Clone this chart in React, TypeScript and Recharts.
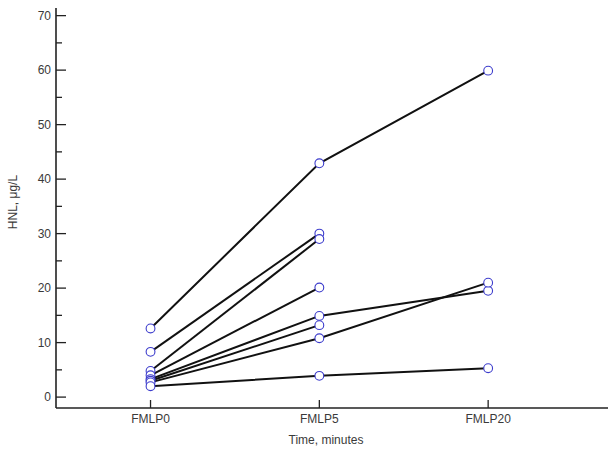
import { LineChart, Line, XAxis, YAxis } from 'recharts';

// time points along the x axis
const TIMEPOINTS = ['FMLP0', 'FMLP5', 'FMLP20'];

// HNL (µg/L) per subject, one value per time point (null = not measured)
const S1 = [12.6, 42.9, 59.9];
const S2 = [8.3, 30.0, null];
const S3 = [4.8, 29.0, null];
const S4 = [4.0, 20.1, null];
const S5 = [3.3, 14.9, 19.5];
const S6 = [3.0, 13.2, null];
const S7 = [2.7, 10.8, 21.0];
const S8 = [2.0, 3.9, 5.3];

const SUBJECTS = [S1, S2, S3, S4, S5, S6, S7, S8];

const Y_TICKS = [0, 5, 10, 15, 20, 25, 30, 35, 40, 45, 50, 55, 60, 65, 70];

const data = TIMEPOINTS.map((label, i) => {
  const row: Record<string, number | string | null> = { x: i, label };
  SUBJECTS.forEach((s, k) => {
    row[`s${k + 1}`] = s[i];
  });
  return row;
});

const TEXT = '#3a3a3a';
const FONT = 'Liberation Sans, Arial, sans-serif';

const XTick = ({ x, y, payload }: any) => (
  <g>
    <line x1={x} y1={y} x2={x} y2={y - 8} stroke="#222" strokeWidth={1.3} />
    <text x={x} y={y + 15} textAnchor="middle" fontSize={12} fill={TEXT} fontFamily={FONT}>
      {TIMEPOINTS[payload.value]}
    </text>
  </g>
);

const YTick = ({ x, y, payload }: any) => {
  const major = payload.value % 10 === 0;
  return (
    <g>
      <line x1={x} y1={y} x2={x + (major ? 10 : 6)} y2={y} stroke="#222" strokeWidth={1.3} />
      {major && (
        <text x={x - 5} y={y + 4} textAnchor="end" fontSize={12} fill={TEXT} fontFamily={FONT}>
          {payload.value}
        </text>
      )}
    </g>
  );
};

export default function App() {
  return (
    <div style={{ position: 'absolute', left: 0, top: 0, width: 608, height: 451, background: '#fff' }}>
      <LineChart width={608} height={451} data={data} margin={{ top: 8, right: 0, bottom: 0, left: 0 }}>
        <XAxis
          dataKey="x"
          type="number"
          domain={[-0.56, 2.71]}
          ticks={[0, 1, 2]}
          tick={<XTick />}
          tickSize={0}
          tickMargin={0}
          height={43}
          axisLine={{ stroke: '#222', strokeWidth: 1.6 }}
          allowDataOverflow
          label={() => (
            <text x={326} y={444} textAnchor="middle" fontSize={12} fill={TEXT} fontFamily={FONT}>
              Time, minutes
            </text>
          )}
        />
        <YAxis
          type="number"
          domain={[-2, 71.4]}
          ticks={Y_TICKS}
          tick={<YTick />}
          tickSize={0}
          tickMargin={0}
          width={56}
          interval={0}
          axisLine={{ stroke: '#222', strokeWidth: 1.6 }}
          allowDataOverflow
          label={() => (
            <text
              x={17}
              y={202}
              transform="rotate(-90 17 202)"
              textAnchor="middle"
              fontSize={12}
              fill={TEXT}
              fontFamily={FONT}
            >
              HNL, μg/L
            </text>
          )}
        />
        {SUBJECTS.map((_, k) => (
          <Line
            key={`l${k}`}
            dataKey={`s${k + 1}`}
            type="linear"
            stroke="#111"
            strokeWidth={2}
            dot={false}
            activeDot={false}
            isAnimationActive={false}
          />
        ))}
        {SUBJECTS.map((_, k) => (
          <Line
            key={`d${k}`}
            dataKey={`s${k + 1}`}
            type="linear"
            stroke="none"
            dot={{ r: 4.4, stroke: '#3c3ccc', strokeWidth: 1.1, fill: '#fff' }}
            activeDot={false}
            isAnimationActive={false}
          />
        ))}
      </LineChart>
    </div>
  );
}
